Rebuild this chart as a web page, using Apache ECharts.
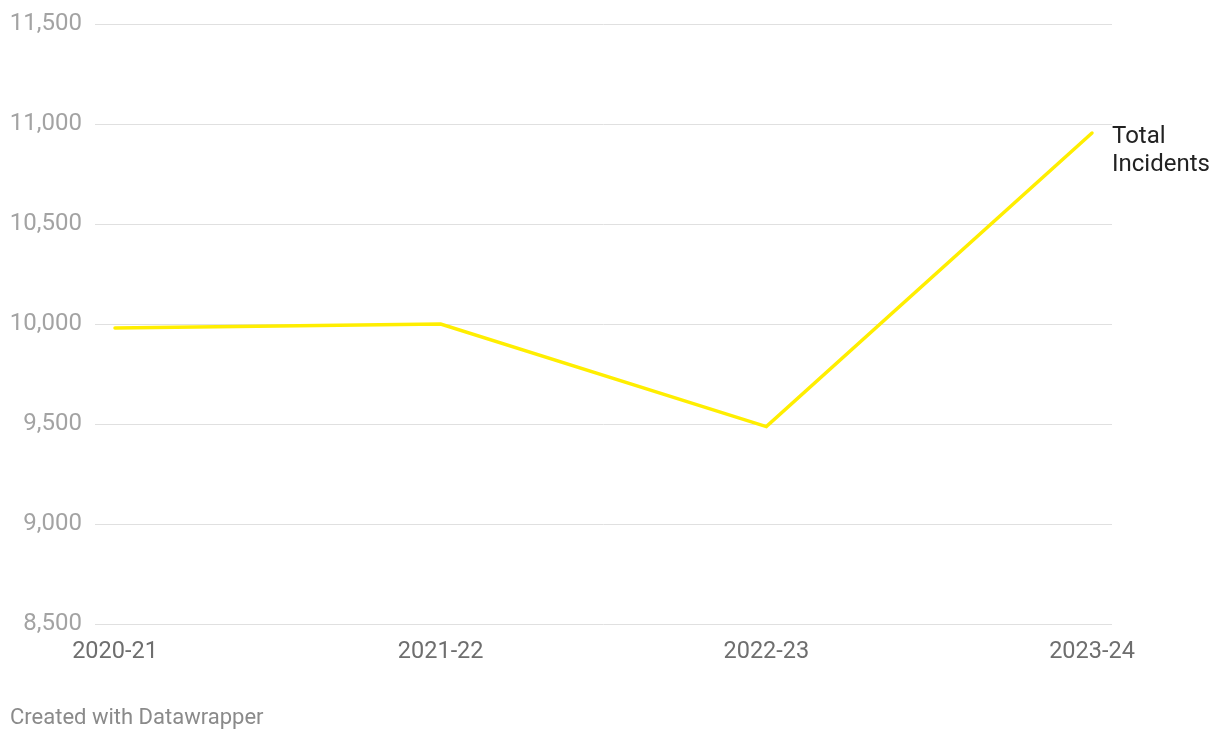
<!DOCTYPE html>
<html><head><meta charset="utf-8">
<script src="https://cdn.jsdelivr.net/npm/echarts@6/dist/echarts.min.js"></script>
<style>html,body{margin:0;padding:0;background:#fff}#c{width:1220px;height:740px}</style>
</head><body><div id="c"></div>
<script>
const categories = ['2020-21', '2021-22', '2022-23', '2023-24'];
const totalIncidents = [9980, 10000, 9487, 10955];
const seriesName = 'Total Incidents';
const yMin = 8500, yMax = 11500, yStep = 500;

const chart = echarts.init(document.getElementById('c'), null, {renderer: 'canvas'});
const font = 'Roboto';
chart.setOption({
  animation: false,
  backgroundColor: '#ffffff',
  title: {
    text: 'Created with Datawrapper', left: 5, top: 702,
    textStyle: {fontFamily: font, fontSize: 22, fontWeight: 'normal', color: '#8a8a8a'}
  },
  grid: [
    {left: 95, right: 108, top: 24, bottom: 116},
    {left: 115, right: 128, top: 24, bottom: 116}
  ],
  xAxis: [
    {gridIndex: 0, type: 'category', data: categories, show: false},
    {gridIndex: 1, type: 'category', data: categories, boundaryGap: false,
     axisLine: {show: false}, axisTick: {show: false}, splitLine: {show: false},
     axisLabel: {fontFamily: font, fontSize: 23.5, color: '#6e6e6e', margin: 16}}
  ],
  yAxis: [
    {gridIndex: 0, type: 'value', min: yMin, max: yMax, interval: yStep,
     axisLine: {show: false}, axisTick: {show: false},
     splitLine: {lineStyle: {color: '#e0e0e0', width: 1}},
     axisLabel: {fontFamily: font, fontSize: 24, color: '#a3a3a3', margin: 13,
       formatter: v => v.toLocaleString('en-US')}},
    {gridIndex: 1, type: 'value', min: yMin, max: yMax, interval: yStep, show: false,
     splitLine: {show: false}}
  ],
  series: [{
    name: seriesName, type: 'line', xAxisIndex: 1, yAxisIndex: 1,
    data: totalIncidents, showSymbol: false, symbol: 'none',
    lineStyle: {color: '#ffee00', width: 3.5, cap: 'round', join: 'miter'},
    endLabel: {show: true, formatter: 'Total\nIncidents', fontFamily: font, fontSize: 24,
      color: '#222222', lineHeight: 28, distance: 20, offset: [0, 18], align: 'left'}
  }]
});
</script></body></html>
